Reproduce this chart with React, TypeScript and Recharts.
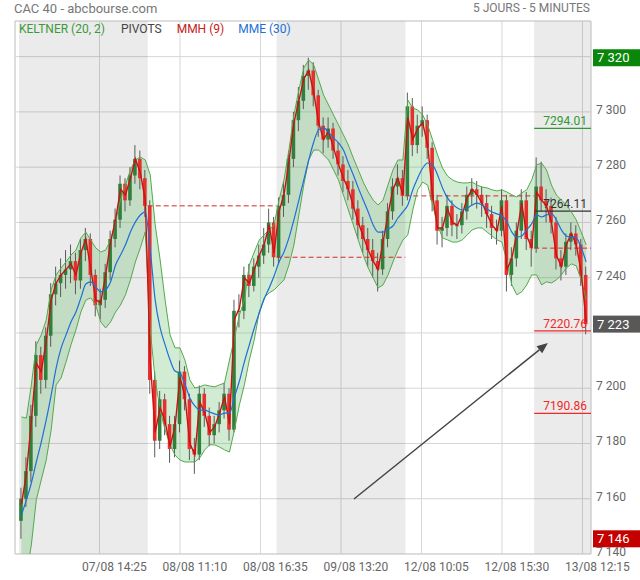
import React from 'react';
import {
  ComposedChart,
  XAxis,
  YAxis,
  CartesianGrid,
  Area,
  Line,
  Bar,
  ReferenceArea,
  ReferenceLine,
} from 'recharts';

// 20-minute candles (4 five-minute slots), 26 per session
const SLOT = 4;
const PER_DAY = 26;
const FIRST_OPEN = 7152;

const CLOSE = [
  7160, 7170, 7190, 7212, 7203, 7219, 7234, 7238, 7241, 7243, 7246, 7239, 7250, 7254, 7241, 7230, 7232, 7242, 7254, 7261, 7274, 7268, 7277, 7283, 7276, 7266,
  7203, 7181, 7196, 7187, 7178, 7187, 7206, 7196, 7178, 7176, 7198, 7190, 7183, 7187, 7192, 7198, 7185, 7228, 7228, 7241, 7237, 7244, 7248, 7252, 7260, 7247.4,
  7266, 7270, 7283, 7297, 7304, 7313, 7315, 7306, 7295, 7290, 7294, 7286, 7281, 7275, 7272, 7265, 7259, 7254, 7250, 7246, 7243, 7254, 7264, 7273, 7276, 7269.6,
  7302, 7288, 7295, 7297, 7287, 7268, 7257, 7258, 7266, 7259, 7259, 7264, 7270, 7272, 7270, 7267, 7263, 7258, 7257, 7268, 7241, 7247, 7257, 7268, 7254, 7250.7,
  7273, 7268, 7266, 7260, 7247, 7244, 7253, 7256, 7252, 7241, 7223.2,
];

const HIGH = [
  7164, 7175, 7194, 7217, 7215, 7222, 7238, 7244, 7247, 7250, 7252, 7249, 7254, 7258, 7256, 7243, 7236, 7245, 7257, 7265, 7277, 7276, 7280, 7288, 7286, 7279,
  7268, 7206, 7199, 7198, 7190, 7190, 7210, 7208, 7198, 7182, 7201, 7200, 7193, 7190, 7195, 7202, 7200, 7232, 7234, 7244, 7245, 7247, 7252, 7258, 7265, 7262,
  7269, 7275, 7286, 7300, 7309, 7317, 7319.6, 7318, 7308, 7298, 7298, 7296, 7289, 7284, 7279, 7275, 7268, 7262, 7258, 7254, 7249, 7257, 7267, 7276, 7281, 7279,
  7307, 7305, 7299, 7302, 7299, 7289, 7270, 7262, 7270, 7268, 7263, 7267, 7273, 7276, 7275, 7273, 7270, 7266, 7261, 7272, 7270, 7251, 7260, 7272, 7271, 7257,
  7283.5, 7282, 7272, 7269, 7262, 7250, 7256, 7260, 7259, 7254, 7244,
];

const LOW = [
  7145.5, 7157, 7166, 7186, 7198, 7200, 7215, 7230, 7233, 7236, 7238, 7234, 7236, 7246, 7237, 7226, 7225, 7229, 7239, 7251, 7258, 7264, 7266, 7274, 7272, 7262,
  7198, 7175, 7178, 7183, 7173, 7175, 7184, 7192, 7174, 7169, 7174, 7186, 7179, 7180, 7184, 7189, 7181, 7184, 7222, 7225, 7233, 7235, 7240, 7245, 7249, 7244,
  7245, 7262, 7267, 7280, 7293, 7301, 7308, 7302, 7291, 7285, 7287, 7283, 7277, 7271, 7268, 7261, 7254, 7249, 7244, 7240, 7235, 7241, 7251, 7261, 7270, 7266,
  7268, 7284, 7285, 7291, 7283, 7264, 7252, 7251, 7255, 7255, 7254, 7256, 7261, 7266, 7265, 7262, 7258, 7254, 7252, 7255, 7235, 7237, 7244, 7254, 7250, 7244,
  7249, 7264, 7260, 7256, 7243, 7239, 7241, 7250, 7248, 7237, 7219.5,
];

// Keltner (20, 2)
const K_UP = [
  7189.6, 7189.2, 7201.2, 7215.7, 7219.3, 7224.7, 7235.6, 7241.0, 7243.5, 7245.7, 7248.2, 7250.0, 7254.4, 7256.5, 7253.6, 7250.8, 7249.3, 7250.0, 7253.6, 7260.2, 7268.1, 7273.6, 7279.0, 7282.6, 7283.7, 7282.6,
  7277.2, 7259.1, 7246.4, 7231.9, 7219.3, 7214.6, 7214.6, 7210.2, 7203.0, 7200.1, 7200.5, 7201.2, 7200.8, 7200.5, 7201.2, 7201.9, 7210.2, 7218.2, 7226.5, 7231.9, 7244.6, 7249.3, 7253.6, 7255.5, 7257.3, 7259.1,
  7268.1, 7275.4, 7286.2, 7298.9, 7307.9, 7315.9, 7318.8, 7317.0, 7311.6, 7306.1, 7302.5, 7298.9, 7295.3, 7291.7, 7288.0, 7283.3, 7279.0, 7274.6, 7271.0, 7268.1, 7266.3, 7268.1, 7273.6, 7279.0, 7282.6, 7282.6,
  7304.3, 7301.4, 7300.7, 7298.9, 7295.3, 7289.9, 7284.4, 7279.7, 7276.8, 7275.4, 7274.6, 7274.3, 7274.3, 7274.6, 7273.5, 7272.8, 7272.5, 7271.8, 7271.4, 7271.8, 7271.0, 7270.0, 7269.2, 7270.7, 7271.8, 7275.4,
  7280.8, 7281.5, 7279.0, 7273.5, 7269.9, 7268.1, 7266.3, 7263.8, 7260.9, 7256.5, 7251.9,
];

const K_LOW = [
  7123.4, 7132.4, 7143.3, 7159.6, 7166.8, 7174.0, 7184.9, 7201.2, 7203.7, 7209.5, 7215.7, 7221.1, 7227.6, 7231.9, 7232.7, 7230.1, 7224.0, 7221.8, 7224.0, 7227.6, 7230.1, 7233.8, 7239.2, 7245.7, 7250.8, 7256.6,
  7221.1, 7203.0, 7192.1, 7184.9, 7179.5, 7175.8, 7174.0, 7173.3, 7173.3, 7173.3, 7174.8, 7177.7, 7179.5, 7179.5, 7178.7, 7177.7, 7176.9, 7184.9, 7194.0, 7201.2, 7210.2, 7217.5, 7227.6, 7232.7, 7234.5, 7235.6,
  7237.4, 7239.2, 7244.6, 7251.8, 7262.7, 7273.6, 7282.6, 7286.2, 7286.2, 7284.4, 7282.6, 7279.0, 7275.4, 7269.9, 7264.5, 7259.1, 7253.6, 7248.2, 7243.5, 7239.9, 7236.3, 7237.4, 7241.0, 7245.7, 7250.0, 7253.6,
  7255.5, 7264.5, 7271.8, 7274.6, 7273.5, 7266.3, 7259.1, 7254.4, 7253.7, 7252.9, 7252.9, 7253.7, 7255.5, 7257.3, 7258.0, 7258.0, 7256.5, 7255.1, 7253.7, 7252.9, 7245.7, 7237.4, 7233.8, 7234.9, 7237.4, 7241.0,
  7241.0, 7237.4, 7238.5, 7238.1, 7239.2, 7241.0, 7243.5, 7245.0, 7244.3, 7239.2, 7232.0,
];

// MMH (9)
const MMH = [
  7158, 7169, 7188, 7209, 7206, 7217, 7232, 7238, 7241, 7243, 7245, 7241, 7249, 7254, 7243, 7232, 7231, 7241, 7253, 7261, 7272, 7270, 7276, 7283, 7278, 7268,
  7210, 7184, 7193, 7188, 7179, 7186, 7204, 7197, 7180, 7176, 7195, 7191, 7184, 7186, 7191, 7197, 7187, 7225, 7229, 7240, 7238, 7243, 7248, 7252, 7259, 7249,
  7264, 7270, 7282, 7296, 7304, 7312, 7315, 7307, 7296, 7290, 7293, 7287, 7281, 7276, 7272, 7266, 7260, 7255, 7250, 7246, 7243, 7253, 7263, 7272, 7276, 7270,
  7298, 7290, 7294, 7296, 7288, 7270, 7258, 7258, 7265, 7260, 7259, 7263, 7269, 7272, 7270, 7267, 7263, 7259, 7257, 7266, 7243, 7247, 7256, 7267, 7255, 7251,
  7271, 7268, 7266, 7260, 7248, 7244, 7252, 7256, 7252, 7242, 7224,
];

// MME (30)
const MME = [
  7154.1, 7159.6, 7165.7, 7173.3, 7180.5, 7188.5, 7197.5, 7207.3, 7214.5, 7219.3, 7224.0, 7227.6, 7232.7, 7237.7, 7238.5, 7236.6, 7234.9, 7235.6, 7238.5, 7244.6, 7248.2, 7251.9, 7256.5, 7260.2, 7262.7, 7263.8,
  7250.0, 7231.9, 7221.8, 7215.7, 7210.2, 7206.2, 7205.5, 7201.5, 7196.5, 7193.6, 7192.1, 7192.1, 7191.4, 7190.7, 7190.3, 7191.0, 7191.0, 7196.8, 7202.6, 7209.5, 7215.7, 7221.8, 7227.2, 7232.3, 7236.3, 7240.6,
  7245.7, 7249.3, 7254.4, 7260.9, 7268.1, 7275.4, 7282.6, 7289.1, 7293.5, 7294.2, 7292.7, 7290.6, 7288.8, 7286.2, 7281.5, 7277.2, 7272.5, 7268.1, 7263.8, 7259.1, 7256.5, 7256.5, 7257.6, 7258.7, 7261.6, 7263.8,
  7266.3, 7271.8, 7276.1, 7279.7, 7281.5, 7280.8, 7277.2, 7272.5, 7268.9, 7266.7, 7265.2, 7264.5, 7265.2, 7266.3, 7267.0, 7266.3, 7264.9, 7263.8, 7263.1, 7262.3, 7260.2, 7256.5, 7254.7, 7255.1, 7257.3, 7259.5,
  7262.7, 7262.0, 7262.7, 7263.1, 7260.9, 7257.3, 7255.1, 7254.7, 7254.4, 7250.8, 7245.7,
];

const PIVOTS = [7294.01, 7264.11, 7220.76, 7190.86];
const PIVOT_COLORS = ['#2f9a2f', '#333333', '#f02828', '#f02828'];

const X_TICKS = [65, 130, 195, 260, 325, 390, 455];
const X_LABELS = ['07/08 14:25', '08/08 11:10', '08/08 16:35', '09/08 13:20', '12/08 10:05', '12/08 15:30', '13/08 12:15'];
const Y_TICKS = [7140, 7160, 7180, 7200, 7220, 7240, 7260, 7280, 7300, 7320];

const X_DOMAIN: [number, number] = [-3.2, 461.9];
const Y_DOMAIN: [number, number] = [7140, 7332.9];
const DAY_LEN = SLOT * PER_DAY;

// trend arrow drawn on the chart (time slot, price)
const ARROW = [
  { x: 270.5, y: 7159.9 },
  { x: 427.1, y: 7216.4 },
];

const rows = CLOSE.map((c, i) => ({
  u: i * SLOT + SLOT / 2,
  o: i === 0 ? FIRST_OPEN : CLOSE[i - 1],
  c,
  h: HIGH[i],
  l: LOW[i],
  ku: K_UP[i],
  kl: K_LOW[i],
  mmh: MMH[i],
  mme: MME[i],
}));

const nDays = Math.ceil(CLOSE.length / PER_DAY);
const lastClose = CLOSE[CLOSE.length - 1];
const periodHigh = Math.max(...HIGH);
const periodLow = Math.min(...LOW);

const fmtPrice = (v: number) => {
  const r = Math.round(v);
  return `${Math.floor(r / 1000)} ${String(r % 1000).padStart(3, '0')}`;
};

const Candle = (props: any) => {
  const { x, y, width, height, payload } = props;
  if (!payload || height == null) return null;
  const { o, c, h, l } = payload;
  const cx = x + width / 2;
  const py = (v: number) => y + ((h - v) / (h - l)) * height;
  const top = py(Math.max(o, c));
  const bot = py(Math.min(o, c));
  const up = c >= o;
  return (
    <g>
      <line x1={cx} x2={cx} y1={y} y2={y + height} stroke="#5a5a5a" strokeWidth={1} />
      <rect x={cx - 1.8} y={top} width={3.6} height={Math.max(bot - top, 1)} fill={up ? '#2f7f3d' : '#e6302e'} />
    </g>
  );
};

const XTick = ({ x, y, payload }: any) => {
  const i = X_TICKS.indexOf(payload.value);
  return (
    <text x={x + 15} y={y + 17} textAnchor="middle" fill="#666" fontSize={12}>
      {X_LABELS[i]}
    </text>
  );
};

// the high and last-price badges sit over their axis labels
const YTick = ({ x, y, payload }: any) => {
  const hidden = [periodHigh, lastClose].some((v) => Math.abs(v - payload.value) < 3.5);
  if (hidden) return null;
  return (
    <text x={x} y={y + 2} fill="#666" fontSize={12}>
      {fmtPrice(payload.value)}
    </text>
  );
};

const badge = (value: number, bg: string) => (props: any) => {
  const { viewBox } = props;
  const x0 = viewBox.x + viewBox.width + 2;
  return (
    <g>
      <rect x={x0} y={viewBox.y - 8.5} width={640 - x0} height={17} fill={bg} />
      <text x={x0 + 4} y={viewBox.y + 4.5} fill="#fff" fontSize={13}>
        {fmtPrice(value)}
      </text>
    </g>
  );
};

const pivotLabel = (text: string, color: string) => (props: any) => {
  const { viewBox } = props;
  return (
    <text x={viewBox.x + viewBox.width - 4} y={viewBox.y - 3} textAnchor="end" fill={color} fontSize={12}>
      {text}
    </text>
  );
};

const Arrow = (p: any) => {
  const { x1, y1, x2, y2 } = p;
  if (x1 == null) return null;
  const a = Math.atan2(y2 - y1, x2 - x1);
  const len = 11;
  const half = 4.5;
  const bx = x2 - len * Math.cos(a);
  const by = y2 - len * Math.sin(a);
  const px = -Math.sin(a) * half;
  const py = Math.cos(a) * half;
  return (
    <g>
      <line x1={x1} y1={y1} x2={bx} y2={by} stroke="#444" strokeWidth={1.5} />
      <polygon points={`${x2},${y2} ${bx + px},${by + py} ${bx - px},${by - py}`} fill="#444" />
    </g>
  );
};

export default function App() {
  const shaded = [];
  for (let d = 0; d < nDays; d += 2) {
    shaded.push(
      <ReferenceArea
        key={`s${d}`}
        x1={d * DAY_LEN}
        x2={Math.min((d + 1) * DAY_LEN, X_DOMAIN[1])}
        y1={Y_DOMAIN[0]}
        y2={Y_DOMAIN[1]}
        fill="#000"
        fillOpacity={0.08}
        stroke="none"
      />
    );
  }
  const prevClose = [];
  for (let d = 1; d < nDays; d++) {
    prevClose.push(
      <ReferenceLine
        key={`p${d}`}
        segment={[
          { x: d * DAY_LEN, y: CLOSE[d * PER_DAY - 1] },
          { x: Math.min((d + 1) * DAY_LEN, X_DOMAIN[1]), y: CLOSE[d * PER_DAY - 1] },
        ]}
        stroke="#d42a2a"
        strokeDasharray="5 3"
        strokeWidth={1}
      />
    );
  }
  const lastDay = (nDays - 1) * DAY_LEN;

  return (
    <div style={{ position: 'absolute', left: 0, top: 0, width: 640, height: 580, fontFamily: 'Roboto, sans-serif', background: '#fff' }}>
      <div style={{ position: 'absolute', left: 14, top: 1, fontSize: 13, color: '#777' }}>CAC 40 - abcbourse.com</div>
      <div style={{ position: 'absolute', right: 50, top: 1, fontSize: 12, color: '#777' }}>5 JOURS - 5 MINUTES</div>
      <ComposedChart width={640} height={580} data={rows} margin={{ top: 21, right: 0, bottom: 0, left: 15 }}>
        {shaded}
        <CartesianGrid stroke="#d6d6d6" />
        <XAxis
          dataKey="u"
          type="number"
          domain={X_DOMAIN}
          allowDataOverflow
          ticks={X_TICKS}
          tick={<XTick />}
          tickSize={0}
          tickMargin={0}
          axisLine={false}
          height={26}
          interval={0}
        />
        <YAxis
          orientation="right"
          type="number"
          domain={Y_DOMAIN}
          allowDataOverflow
          ticks={Y_TICKS}
          tick={<YTick />}
          tickSize={0}
          tickMargin={5}
          axisLine={false}
          width={49}
          interval={0}
        />
        <ReferenceArea x1={X_DOMAIN[0]} x2={X_DOMAIN[1]} y1={Y_DOMAIN[0]} y2={Y_DOMAIN[1]} fill="none" stroke="#cfcfcf" />
        {prevClose}
        {PIVOTS.map((p, i) => (
          <ReferenceLine
            key={`pv${i}`}
            segment={[
              { x: lastDay, y: p },
              { x: X_DOMAIN[1], y: p },
            ]}
            stroke={PIVOT_COLORS[i]}
            strokeWidth={1.2}
            label={pivotLabel(p.toFixed(2), PIVOT_COLORS[i])}
          />
        ))}
        <Area
          dataKey={(d: any) => [d.kl, d.ku]}
          stroke="none"
          fill="#4caf50"
          fillOpacity={0.25}
          isAnimationActive={false}
          type="linear"
        />
        <Line dataKey="ku" stroke="#55a84d" strokeWidth={1} dot={false} isAnimationActive={false} type="linear" />
        <Line dataKey="kl" stroke="#55a84d" strokeWidth={1} dot={false} isAnimationActive={false} type="linear" />
        <Bar dataKey={(d: any) => [d.l, d.h]} barSize={4} shape={<Candle />} isAnimationActive={false} />
        <Line dataKey="mmh" stroke="#cc1111" strokeWidth={1.4} dot={false} isAnimationActive={false} type="linear" />
        <Line dataKey="mme" stroke="#1f6fd6" strokeWidth={1.2} dot={false} isAnimationActive={false} type="monotone" />
        <ReferenceLine segment={ARROW} shape={<Arrow />} ifOverflow="visible" />
        <ReferenceLine y={periodHigh} stroke="none" label={badge(periodHigh, '#0a870a')} />
        <ReferenceLine y={lastClose} stroke="none" label={badge(lastClose, '#585858')} />
        <ReferenceLine y={periodLow} stroke="none" label={badge(periodLow, '#c40000')} />
      </ComposedChart>
      <div style={{ position: 'absolute', left: 19, top: 22, fontSize: 12, whiteSpace: 'nowrap' }}>
        <span style={{ color: '#3a9a3a' }}>KELTNER (20, 2)</span>
        <span style={{ color: '#444', marginLeft: 16 }}>PIVOTS</span>
        <span style={{ color: '#c62020', marginLeft: 15 }}>MMH (9)</span>
        <span style={{ color: '#1f6fd6', marginLeft: 14 }}>MME (30)</span>
      </div>
    </div>
  );
}
